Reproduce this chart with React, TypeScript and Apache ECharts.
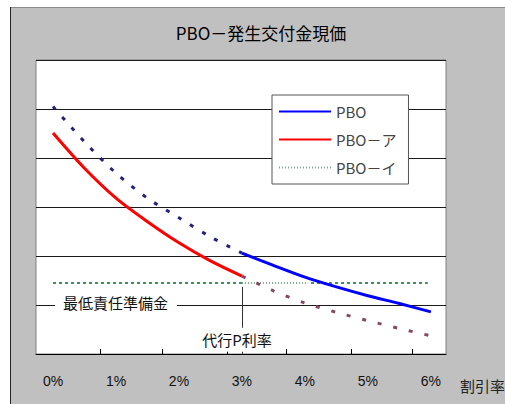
import React, { useEffect, useRef } from "react";
import * as echarts from "echarts";

// x = discount rate (%), y = present value (chart units)
const ratesLow = [0, 0.5, 1, 1.5, 2, 2.5, 3];
const ratesHigh = [3, 3.5, 4, 4.5, 5, 5.5, 6];
const pboLow = [5.05, 4.33, 3.69, 3.18, 2.78, 2.39, 2.06];
const pboHigh = [2.06, 1.81, 1.57, 1.37, 1.19, 1.03, 0.86];
const pboALow = [4.51, 3.79, 3.18, 2.7, 2.27, 1.9, 1.59];
const pboAHigh = [1.59, 1.29, 1.04, 0.85, 0.68, 0.52, 0.37];
const minReserveLevel = 1.45;
const minReserveRange = [0, 5.95];
const pboIRange = [3, 4.05];
const daikoRate = 3;
const xLabels = [0, 1, 2, 3, 4, 5, 6];
const xTicks = [0.75, 1.73, 2.76, 3.71, 4.73, 5.71];

const JP = '"Noto Sans CJK JP", "Noto Sans", sans-serif';

const pair = (xs: number[], ys: number[]) => xs.map((x, i) => [x, ys[i]]);

export default function App() {
  const ref = useRef<HTMLDivElement>(null);
  useEffect(() => {
    if (!ref.current) return;
    const chart = echarts.init(ref.current, null, { renderer: "svg" });
    chart.setOption({
      animation: false,
      backgroundColor: "#c0c0c0",
      textStyle: { fontFamily: JP },
      graphic: [
        { type: "rect", shape: { x: 0, y: 0, width: 505, height: 7 }, style: { fill: "#fff" } },
        { type: "rect", shape: { x: 0, y: 0, width: 10, height: 404 }, style: { fill: "#fff" } },
        { type: "line", shape: { x1: 10, y1: 7.5, x2: 505, y2: 7.5 }, style: { stroke: "#8a8a8a", lineWidth: 1 } },
        { type: "line", shape: { x1: 10.5, y1: 7, x2: 10.5, y2: 404 }, style: { stroke: "#222", lineWidth: 1 } },
        {
          type: "text",
          style: {
            text: "PBO－発生交付金現価",
            x: 261,
            y: 32,
            align: "center",
            verticalAlign: "middle",
            fontSize: 17,
            fontFamily: JP,
            fill: "#000",
          },
        },
        {
          type: "text",
          style: {
            text: "割引率",
            x: 460,
            y: 385,
            align: "left",
            verticalAlign: "middle",
            fontSize: 15,
            fontFamily: JP,
            fill: "#222",
          },
        },
      ],
      grid: {
        left: 36,
        right: 59,
        top: 60,
        bottom: 50,
        show: true,
        backgroundColor: "#fff",
        borderColor: "#808080",
        borderWidth: 1,
      },
      legend: {
        data: ["PBO", "PBO－ア", "PBO－イ"],
        orient: "vertical",
        left: 272,
        top: 95,
        padding: [9, 12, 9, 6],
        itemWidth: 52,
        itemHeight: 14,
        itemGap: 13,
        backgroundColor: "#fff",
        borderColor: "#555",
        borderWidth: 1,
        selectedMode: false,
        itemStyle: { opacity: 0, borderWidth: 0 },
        textStyle: { fontSize: 15, color: "#444", fontFamily: JP },
      },
      xAxis: {
        type: "value",
        min: -0.27,
        max: 6.24,
        axisLine: { show: true, lineStyle: { color: "#000", width: 1 } },
        axisTick: {
          show: true,
          inside: true,
          length: 5,
          customValues: xTicks,
          lineStyle: { color: "#000" },
        },
        axisLabel: {
          customValues: xLabels,
          formatter: (v: number) => `${v}%`,
          margin: 20,
          fontSize: 14,
          color: "#111",
          fontFamily: '"Liberation Sans", Arial, sans-serif',
        },
        splitLine: { show: false },
      },
      yAxis: {
        type: "value",
        min: 0,
        max: 6,
        interval: 1,
        axisLabel: { show: false },
        axisLine: { show: false },
        axisTick: { show: false },
        splitLine: { lineStyle: { color: "#1a1a1a", width: 1 } },
      },
      series: [
        {
          name: "最低責任準備金",
          type: "line",
          symbol: "none",
          data: minReserveRange.map((x) => [x, minReserveLevel]),
          itemStyle: { color: "#3a925c" },
          lineStyle: { color: "#3a925c", width: 2, type: [3, 3] },
          markLine: {
            silent: true,
            symbol: ["none", "none"],
            label: { show: false },
            lineStyle: { color: "#333", width: 1, type: "solid" },
            data: [[{ coord: [daikoRate, 1.37] }, { coord: [daikoRate, 0] }]],
          },
          markPoint: {
            silent: true,
            symbol: "circle",
            symbolSize: 0,
            itemStyle: { color: "transparent" },
            label: {
              show: true,
              position: "inside",
              fontSize: 15,
              color: "#111",
              fontFamily: JP,
              backgroundColor: "#fff",
            },
            data: [
              {
                coord: [1.0, 1.06],
                label: { formatter: "最低責任準備金", padding: [1, 9, 1, 8] },
              },
              {
                coord: [daikoRate, 0.29],
                label: { formatter: "代行P利率", padding: [6, 2, 3, 2], offset: [-5, 0] },
              },
            ],
          },
        },
        {
          name: "gap",
          type: "line",
          symbol: "none",
          silent: true,
          data: pboIRange.map((x) => [x, minReserveLevel]),
          itemStyle: { color: "#fff" },
          lineStyle: { color: "#fff", width: 5 },
        },
        {
          name: "PBO－イ",
          type: "line",
          symbol: "none",
          data: pboIRange.map((x) => [x, minReserveLevel]),
          itemStyle: { color: "#7ea88c" },
          lineStyle: { color: "#7ea88c", width: 2, type: [1, 2] },
        },
        {
          name: "PBO低",
          type: "line",
          symbol: "none",
          smooth: 0.3,
          data: pair(ratesLow, pboLow),
          itemStyle: { color: "#22227c" },
          lineStyle: { color: "#22227c", width: 3, type: [4, 10] },
        },
        {
          name: "PBO－ア高",
          type: "line",
          symbol: "none",
          smooth: 0.3,
          data: pair(ratesHigh, pboAHigh),
          itemStyle: { color: "#864862" },
          lineStyle: { color: "#864862", width: 3, type: [4, 12] },
        },
        {
          name: "PBO",
          type: "line",
          symbol: "none",
          smooth: 0.3,
          data: pair(ratesHigh, pboHigh),
          itemStyle: { color: "#0000ff" },
          lineStyle: { color: "#0000ff", width: 3 },
        },
        {
          name: "PBO－ア",
          type: "line",
          symbol: "none",
          smooth: 0.3,
          data: pair(ratesLow, pboALow),
          itemStyle: { color: "#ff0000" },
          lineStyle: { color: "#ff0000", width: 3 },
        },
      ],
    });
    return () => chart.dispose();
  }, []);
  return (
    <div
      ref={ref}
      style={{ position: "fixed", left: 0, top: 0, width: 505, height: 404 }}
    />
  );
}
